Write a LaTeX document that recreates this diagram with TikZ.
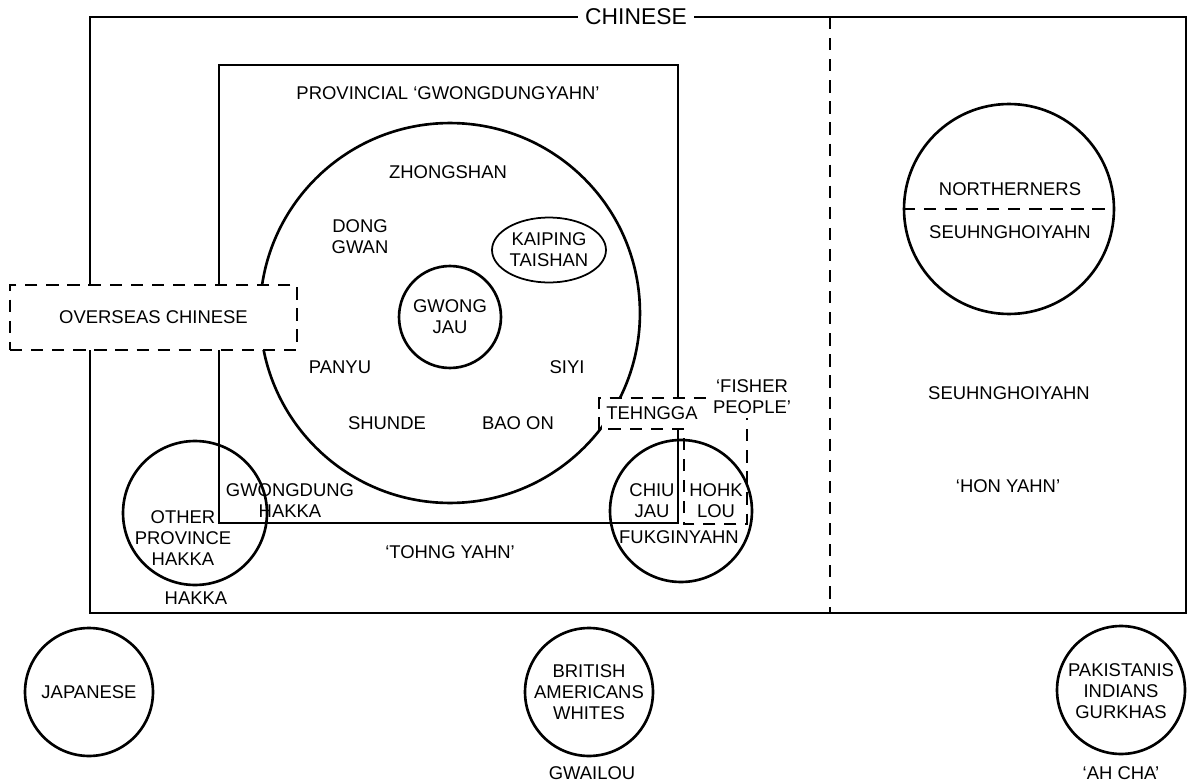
\documentclass[tikz,border=0pt]{standalone}
\usepackage{fontspec}
\setmainfont{Liberation Sans}
\usetikzlibrary{shapes.geometric}

\begin{document}
\begin{tikzpicture}[x=0.02cm, y=-0.02cm, line width=1.5pt,
      every node/.style={font=\fontsize{10.5}{12}\selectfont, align=center, inner sep=2pt},
      group/.style={circle, draw, inner sep=0pt},
      dashline/.style={dash pattern=on 7pt off 5pt},
      cover/.style={fill=white}]
    \useasboundingbox (0,0) rectangle (1187,784);

    % chinese frame and its split
    \coordinate (chnNW) at (90,17);
    \coordinate (chnSE) at (1186,613);
    \draw (chnNW) rectangle (chnSE);
    \node[cover, inner sep=4pt, font=\fontsize{13}{15}\selectfont] (chinese) at (636,17) {CHINESE};
    \coordinate (splitTop) at (830,17);
    \coordinate (splitBot) at (830,613);
    \draw[dashline] (splitTop) -- (splitBot);

    % provincial box
    \coordinate (provNW) at (219,65);
    \coordinate (provSE) at (678,523);
    \draw (provNW) rectangle (provSE);
    \node (provincial) at (448,93) {PROVINCIAL `GWONGDUNGYAHN'};

    % the big circle
    \node[group, minimum size=7.6cm] (canton) at (450,313) {};
    \node[group, minimum size=2.04cm] (gwongjau) at (450,317) {GWONG\\JAU};
    \node[ellipse, draw, line width=1pt, minimum width=2.28cm, minimum height=1.3cm, inner sep=0pt]
      (kaiping) at (549,250) {KAIPING\\TAISHAN};
    \node (zhongshan) at (448,172) {ZHONGSHAN};
    \node (dongguan) at (360,237) {DONG\\GWAN};
    \node (panyu) at (340,367) {PANYU};
    \node (siyi) at (567,367) {SIYI};
    \node (shunde) at (387,423) {SHUNDE};
    \node (baoon) at (518,423) {BAO ON};

    % overseas
    \node[cover, draw, dashline, minimum width=5.74cm, minimum height=1.3cm]
      (overseas) at (153.5,317.5) {OVERSEAS CHINESE};

    % fisher people
    \node[cover, minimum width=2.02cm, minimum height=0.62cm] (tehngga) at (652,413.5) {TEHNGGA};
    \coordinate (fishA) at (684,429);
    \coordinate (fishB) at (599,429);
    \coordinate (fishC) at (599,398);
    \coordinate (fishD) at (747,398);
    \coordinate (fishE) at (747,524);
    \coordinate (fishF) at (684,524);
    \draw[dashline] (fishA) -- (fishB) -- (fishC) -- (fishD) -- (fishE) -- (fishF) -- cycle;
    \node[cover] (fisher) at (752,397) {`FISHER\\PEOPLE'};

    % fukgin
    \node[group, minimum size=2.84cm] (fukgin) at (681,511) {};
    \node (chiujau) at (652,501) {CHIU\\JAU};
    \node (hohklou) at (716,501) {HOHK\\LOU};
    \node (fukginyahn) at (679,537) {FUKGINYAHN};

    % hakka
    \node[group, minimum size=2.88cm] (hakkac) at (195,513) {};
    \node (gdhakka) at (290,501) {GWONGDUNG\\HAKKA};
    \node (ophakka) at (183,538) {OTHER\\PROVINCE\\HAKKA};
    \node (hakka) at (196,598) {HAKKA};
    \node (tohng) at (450,552) {`TOHNG YAHN'};

    % seuhnghoiyahn
    \node[group, minimum size=4.2cm] (northern) at (1009,209) {};
    \draw[dashline] (northern.west) -- (northern.east);
    \node (northerners) at (1010,189) {NORTHERNERS};
    \node (seuhnA) at (1010,232) {SEUHNGHOIYAHN};
    \node (seuhnB) at (1009,393) {SEUHNGHOIYAHN};
    \node (honyahn) at (1008,486) {`HON YAHN'};

    % outsiders
    \node[group, minimum size=2.56cm] (japan) at (89,692) {};
    \node (japanese) at (89,692) {JAPANESE};
    \node[group, minimum size=2.56cm] (gwai) at (589,692) {};
    \node (british) at (589,692) {BRITISH\\AMERICANS\\WHITES};
    \node (gwailou) at (592,773) {GWAILOU};
    \node[group, minimum size=2.56cm] (ahchac) at (1121,690) {};
    \node (pakistan) at (1121,691) {PAKISTANIS\\INDIANS\\GURKHAS};
    \node (ahcha) at (1121,773) {`AH CHA'};
  \end{tikzpicture}
\end{document}
